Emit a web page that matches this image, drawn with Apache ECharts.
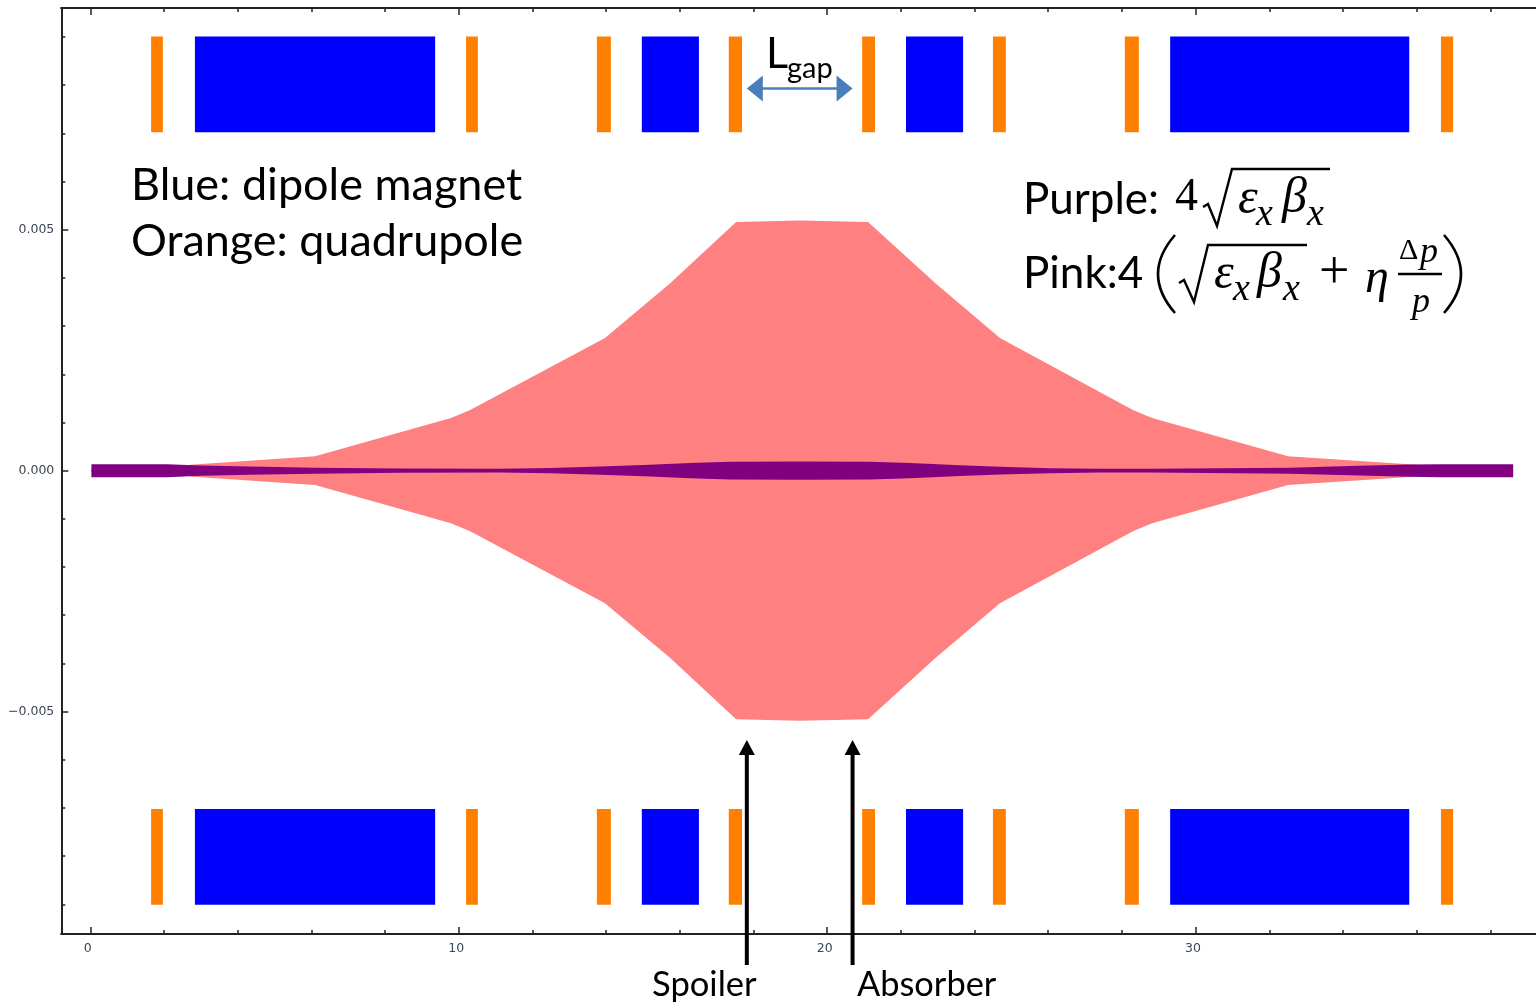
<!DOCTYPE html>
<html>
<head>
<meta charset="utf-8">
<title>Collimation chicane beam envelope</title>
<script src="https://cdn.jsdelivr.net/npm/echarts@6/dist/echarts.min.js"></script>
<style>html,body{margin:0;padding:0;background:#fff}#chart{width:1536px;height:1002px}</style>
</head>
<body>
<div id="chart"></div>
<script>
// Axis ticks
const xMajorTicks = [0, 10, 20, 30];
const xMinorTicks = [2, 4, 6, 8, 12, 14, 16, 18, 22, 24, 26, 28, 32, 34, 36, 38];
const yMajorTicks = [-0.005, 0, 0.005];
const yMinorTicks = [-0.009, -0.008, -0.007, -0.006, -0.004, -0.003, -0.002, -0.001, 0.001, 0.002, 0.003, 0.004, 0.006, 0.007, 0.008, 0.009];

// Pink envelope
const pinkX = [2.71, 6.10, 9.79, 10.31, 13.97, 15.74, 17.53, 19.26, 21.11, 22.94, 24.69, 28.30, 28.82, 32.51, 36.0];
const pinkHalf = [0.00012, 0.00030, 0.00109, 0.00126, 0.00275, 0.00389, 0.00516, 0.00519, 0.00516, 0.00389, 0.00275, 0.00126, 0.00109, 0.00030, 0.00012];

// Purple envelope
const purpleX = [0.03, 2.08, 3.0, 4.34, 6.10, 8.41, 11.12, 12.48, 13.84, 15.19, 16.28, 17.36, 19.26, 21.16, 22.25, 23.61, 24.69, 26.05, 27.41, 28.77, 32.57, 34.19, 35.82, 36.64, 38.62];
const purpleHalf = [0.000135, 0.000135, 0.000108, 0.000085, 0.000062, 0.000044, 0.00004, 0.000054, 0.000085, 0.00012, 0.000158, 0.000183, 0.000191, 0.000183, 0.000158, 0.000112, 0.000081, 0.000052, 0.00004, 0.000041, 0.000062, 0.000095, 0.000129, 0.000135, 0.000135];

// Magnets
const quadrupoles = [[1.65, 1.97], [10.2, 10.52], [13.75, 14.13], [17.33, 17.69], [20.95, 21.3], [24.5, 24.85], [28.08, 28.46], [36.66, 36.99]];
const dipoles = [[2.84, 9.36], [14.97, 16.52], [22.14, 23.69], [29.31, 35.8]];
const magnetBandsY = [[0.00702, 0.00901], [-0.00901, -0.00702]];

// Annotation arrows: [x, yStart, yEnd]
const upArrows = [[17.82, -0.01026, -0.00559], [20.69, -0.01026, -0.00559]];
const gapArrow = [17.82, 20.69, 0.00793];

const ORANGE = '#ff8000', BLUE = '#0000ff', PINK = '#ff8080', PURPLE = '#800080';
const AXIS = '#222222';
const X_MIN = -0.787, X_MAX = 39.24, Y_MIN = -0.009615, Y_MAX = 0.0096;

const pairs = (xs, ys, sign) => xs.map((x, i) => [x, sign * ys[i]]);

function rectData(ranges) {
  const out = [];
  magnetBandsY.forEach(b => ranges.forEach(r => out.push([r[0], r[1], b[0], b[1]])));
  return out;
}
function rectSeries(name, ranges, color) {
  return {
    type: 'custom', name, xAxisIndex: 0, yAxisIndex: 0, z: 3, silent: true,
    data: rectData(ranges), encode: {x: [0, 1], y: [2, 3]},
    renderItem: (p, api) => {
      const a = api.coord([api.value(0), api.value(3)]);
      const b = api.coord([api.value(1), api.value(2)]);
      return {type: 'rect', shape: {x: a[0], y: a[1], width: b[0] - a[0], height: b[1] - a[1]}, style: {fill: color}};
    }
  };
}
function envSeries(name, xs, ys, sign, color, z) {
  return {
    type: 'line', name, xAxisIndex: 0, yAxisIndex: 0, z, silent: true,
    data: pairs(xs, ys, sign), showSymbol: false, symbol: 'none', smooth: false,
    lineStyle: {width: 0, color}, itemStyle: {color},
    areaStyle: {color, opacity: 1, origin: -sign * 0.000012}, animation: false
  };
}
const upArrowSeries = {
  type: 'custom', name: 'Spoiler and absorber arrows', xAxisIndex: 0, yAxisIndex: 0, z: 6, silent: true, clip: false,
  data: upArrows, encode: {x: 0, y: [1, 2]},
  renderItem: (p, api) => {
    const a = api.coord([api.value(0), api.value(1)]);
    const b = api.coord([api.value(0), api.value(2)]);
    return {type: 'group', children: [
      {type: 'line', shape: {x1: a[0], y1: a[1], x2: b[0], y2: b[1] + 10}, style: {stroke: '#000', lineWidth: 4}},
      {type: 'polygon', shape: {points: [[b[0], b[1]], [b[0] + 8, b[1] + 15], [b[0] - 8, b[1] + 15]]}, style: {fill: '#000'}}
    ]};
  }
};
const gapArrowSeries = {
  type: 'custom', name: 'Gap arrow', xAxisIndex: 0, yAxisIndex: 0, z: 6, silent: true, clip: false,
  data: [gapArrow], encode: {x: [0, 1], y: 2},
  renderItem: (p, api) => {
    const a = api.coord([api.value(0), api.value(2)]);
    const b = api.coord([api.value(1), api.value(2)]);
    const c = '#4a7ebb', h = 16, w = 13;
    return {type: 'group', children: [
      {type: 'line', shape: {x1: a[0] + 8, y1: a[1], x2: b[0] - 8, y2: b[1]}, style: {stroke: c, lineWidth: 2.5}},
      {type: 'polygon', shape: {points: [[a[0], a[1]], [a[0] + h, a[1] - w], [a[0] + h, a[1] + w]]}, style: {fill: c}},
      {type: 'polygon', shape: {points: [[b[0], b[1]], [b[0] - h, b[1] - w], [b[0] - h, b[1] + w]]}, style: {fill: c}}
    ]};
  }
};

function baseX(extra) {
  return Object.assign({
    type: 'value', min: X_MIN, max: X_MAX, gridIndex: 0, splitLine: {show: false},
    axisLine: {onZero: false, show: true, lineStyle: {color: AXIS, width: 2}}
  }, extra);
}
function baseY(extra) {
  return Object.assign({
    type: 'value', min: Y_MIN, max: Y_MAX, gridIndex: 0, splitLine: {show: false},
    axisLine: {onZero: false, show: true, lineStyle: {color: AXIS, width: 2}}
  }, extra);
}
const tickFont = {fontFamily: '"DejaVu Sans"', fontSize: 12.5, color: '#3a4652'};
const noLabel = {show: false, customValues: []};
const majorTick = (vals) => ({show: true, inside: true, length: 7, customValues: vals, lineStyle: {color: AXIS, width: 1.5}});
const minorTick = vals => ({show: true, inside: true, length: 4, customValues: vals, lineStyle: {color: AXIS, width: 1.5}});

const MATH = '"Liberation Serif"';
const SANS = 'Lato';
const txt = (text, x, y, size, family, italic) => ({
  type: 'text', x, y, z: 20, silent: true,
  style: {text, font: (italic ? 'italic ' : '') + size + 'px ' + family, fill: '#000', verticalAlign: 'middle', textAlign: 'left'}
});
const poly = (points) => ({type: 'polyline', z: 20, silent: true, shape: {points}, style: {stroke: '#000', lineWidth: 2.4, fill: null, lineJoin: 'miter'}});
const curve = (x1, y1, cx, cy, x2, y2) => ({type: 'bezierCurve', z: 20, silent: true, shape: {x1, y1, x2, y2, cpx1: cx, cpy1: cy}, style: {stroke: '#000', lineWidth: 2.6, fill: null}});

const annotations = [
  txt('Blue: dipole magnet', 131, 185, 45, SANS),
  txt('Orange: quadrupole', 131, 242, 44.9, SANS),
  txt('L', 766, 54, 43, SANS),
  txt('gap', 787, 69, 29, SANS),
  txt('Spoiler', 652, 985, 34.6, SANS),
  txt('Absorber', 857, 985, 34.4, SANS),
  txt('Purple:', 1023, 200, 44, SANS),
  txt('4', 1175, 198, 46, MATH),
  poly([[1203, 207], [1208, 204], [1217, 226], [1232, 169], [1330, 169]]),
  txt('ε', 1238, 200, 50, MATH, true),
  txt('x', 1256, 215, 38, MATH, true),
  txt('β', 1282, 199, 50, MATH, true),
  txt('x', 1307, 215, 38, MATH, true),
  txt('Pink:4', 1023, 274, 44, SANS),
  curve(1175, 235, 1141, 274, 1175, 313),
  poly([[1179, 283], [1184, 280], [1194, 302], [1208, 245], [1307, 245]]),
  txt('ε', 1214, 275, 50, MATH, true),
  txt('x', 1233, 290, 38, MATH, true),
  txt('β', 1257, 274, 50, MATH, true),
  txt('x', 1283, 290, 38, MATH, true),
  txt('+', 1319, 274, 54, MATH),
  txt('η', 1365, 279, 48, MATH, true),
  txt('Δ', 1399, 251, 30, MATH),
  txt('p', 1420, 253, 36, MATH, true),
  {type: 'line', z: 20, silent: true, shape: {x1: 1398, y1: 274, x2: 1442, y2: 274}, style: {stroke: '#000', lineWidth: 2.6}},
  txt('p', 1412, 303, 36, MATH, true),
  curve(1444, 235, 1478, 274, 1444, 313)
];

const chart = echarts.init(document.getElementById('chart'), null, {renderer: 'canvas'});
chart.setOption({
  animation: false,
  backgroundColor: '#ffffff',
  grid: {left: 61.3, right: 0, top: 8, bottom: 68, containLabel: false},
  xAxis: [
    baseX({position: 'bottom', axisTick: majorTick(xMajorTicks),
      axisLabel: Object.assign({show: true, customValues: xMajorTicks, margin: 8, padding: [0, 5, 0, 0], formatter: v => String(Math.round(v))}, tickFont)}),
    baseX({position: 'bottom', axisTick: minorTick(xMinorTicks), axisLabel: noLabel}),
    baseX({position: 'top', axisTick: majorTick(xMajorTicks), axisLabel: noLabel}),
    baseX({position: 'top', axisTick: minorTick(xMinorTicks), axisLabel: noLabel})
  ],
  yAxis: [
    baseY({position: 'left', axisTick: majorTick(yMajorTicks),
      axisLabel: Object.assign({show: true, customValues: yMajorTicks, margin: 7,
        formatter: v => (v < 0 ? '\u2212' : '') + Math.abs(v).toFixed(3)}, tickFont)}),
    baseY({position: 'left', axisTick: minorTick(yMinorTicks), axisLabel: noLabel})
  ],
  series: [
    envSeries('Pink upper', pinkX, pinkHalf, 1, PINK, 2),
    envSeries('Pink lower', pinkX, pinkHalf, -1, PINK, 2),
    envSeries('Purple upper', purpleX, purpleHalf, 1, PURPLE, 4),
    envSeries('Purple lower', purpleX, purpleHalf, -1, PURPLE, 4),
    rectSeries('Quadrupole', quadrupoles, ORANGE),
    rectSeries('Dipole', dipoles, BLUE),
    upArrowSeries,
    gapArrowSeries
  ],
  graphic: {elements: annotations}
});
</script>
</body>
</html>
